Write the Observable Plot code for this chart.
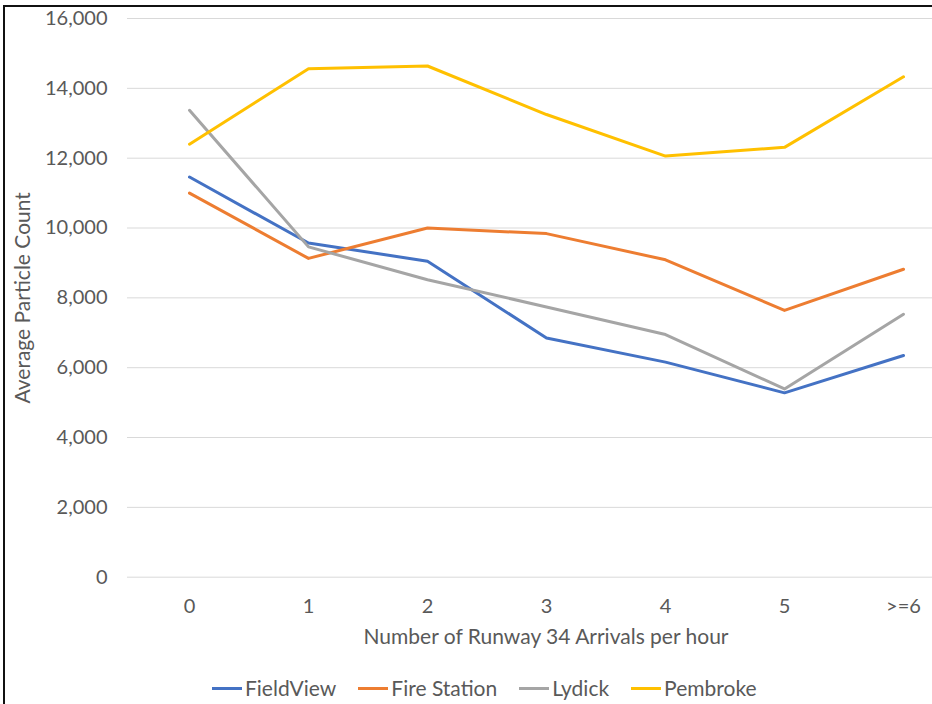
<!DOCTYPE html>
<html>
<head>
<meta charset="utf-8">
<script src="https://cdn.jsdelivr.net/npm/d3@7"></script>
<script src="https://cdn.jsdelivr.net/npm/@observablehq/plot@0.6"></script>
<style>
  html, body { margin: 0; padding: 0; background: #fff; }
  #wrap { position: relative; width: 932px; height: 704px; overflow: hidden; font-family: Lato, "Open Sans", sans-serif; }
  #frame { position: absolute; left: 3px; top: 5px; width: 1000px; height: 800px; border-left: 2.5px solid #111; border-top: 2.5px solid #111; box-sizing: border-box; pointer-events: none; }
  #chart { position: absolute; left: 0; top: 0; }
  #chart svg g[aria-label="x-axis label"] text, #chart svg g[aria-label="y-axis label"] text { font-size: 21px; }
  #legend { position: absolute; left: 212px; top: 675px; display: flex; gap: 22px; font-size: 21px; color: #595959; line-height: 26px; }
  #legend .item { display: flex; align-items: center; }
  #legend .sw { width: 30px; height: 3px; margin-right: 3px; }
</style>
</head>
<body>
<div id="wrap">
  <div id="chart"></div>
  <div id="legend"></div>
  <div id="frame"></div>
</div>
<script>
const categories = ["0", "1", "2", "3", "4", "5", ">=6"];
const seriesNames = ["FieldView", "Fire Station", "Lydick", "Pembroke"];
const seriesColors = ["#4472C4", "#ED7D31", "#A5A5A5", "#FFC000"];
const fieldView   = [11460, 9570, 9050, 6850, 6160, 5280, 6350];
const fireStation = [11000, 9130, 10000, 9840, 9090, 7640, 8820];
const lydick      = [13370, 9460, 8520, 7740, 6950, 5390, 7530];
const pembroke    = [12400, 14560, 14640, 13250, 12060, 12310, 14330];
const yTicks = [0, 2000, 4000, 6000, 8000, 10000, 12000, 14000, 16000];
const xLabel = "Number of Runway 34 Arrivals per hour";
const yLabel = "Average Particle Count";

const seriesValues = [fieldView, fireStation, lydick, pembroke];
const data = [];
seriesNames.forEach((s, i) => {
  categories.forEach((c, j) => data.push({series: s, cat: c, value: seriesValues[i][j]}));
});

const chart = Plot.plot({
  width: 932,
  height: 704,
  marginLeft: 127,
  marginRight: -32,
  marginTop: 18,
  marginBottom: 127.3,
  style: {fontFamily: "Lato, 'Open Sans', sans-serif", fontSize: "20px", color: "#595959", background: "transparent", overflow: "hidden"},
  x: {type: "point", domain: categories, padding: 0.5},
  y: {domain: [0, 16000]},
  color: {domain: seriesNames, range: seriesColors},
  marks: [
    Plot.ruleY(yTicks, {stroke: "#D9D9D9", strokeWidth: 1}),
    Plot.axisY({ticks: yTicks, tickFormat: d3.format(","), tickSize: 0, tickPadding: 20,
      label: yLabel, labelAnchor: "center", labelArrow: "none", labelOffset: 112}),
    Plot.axisX({tickSize: 0, tickPadding: 22, label: xLabel, labelAnchor: "center", labelArrow: "none", labelOffset: 67}),
    Plot.line(data, {x: "cat", y: "value", z: "series", stroke: "series", strokeWidth: 3, strokeLinejoin: "round", strokeLinecap: "round"})
  ]
});
document.getElementById("chart").appendChild(chart);

const legend = document.getElementById("legend");
seriesNames.forEach((s, i) => {
  const item = document.createElement("div");
  item.className = "item";
  const sw = document.createElement("span");
  sw.className = "sw";
  sw.style.background = seriesColors[i];
  const t = document.createElement("span");
  t.textContent = s;
  item.appendChild(sw);
  item.appendChild(t);
  legend.appendChild(item);
});
</script>
</body>
</html>
